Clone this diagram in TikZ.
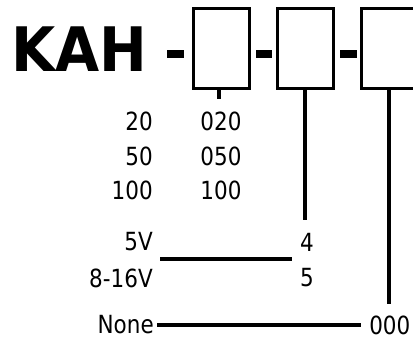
\documentclass[tikz,border=0pt]{standalone}
\usepackage{fontspec}
\setmainfont[FakeStretch=0.86]{DejaVu Sans}
\newfontfamily\kahfont[FakeStretch=0.93]{DejaVu Sans Bold}
\begin{document}
\begin{tikzpicture}[x=0.75pt,y=-0.75pt,
  codebox/.style={draw=black,line width=2.6pt,minimum width=55.5pt*0.75,minimum height=80pt*0.75,inner sep=0pt},
  dashbar/.style={fill=black},
  conn/.style={line width=2.5pt},
  lbl/.style={inner sep=0pt,font=\fontsize{18.75pt}{20pt}\selectfont}]
\useasboundingbox (0,0) rectangle (413,342);
\node[anchor=base west,inner sep=0pt,font=\kahfont\fontsize{46pt}{48pt}\selectfont] (kah) at (11,72) {KAH};
\node[codebox] (b1) at (221.5,48.5) {};
\node[codebox] (b2) at (305.5,48.5) {};
\node[codebox] (b3) at (389.5,48.5) {};
\fill[dashbar] (167,50) rectangle (184,58);
\fill[dashbar] (256,50) rectangle (272,58);
\fill[dashbar] (340,50) rectangle (357,58);
% labels
\node[lbl,anchor=east] (r20) at (153,121) {20};
\node[lbl,anchor=east] (r50) at (153,156) {50};
\node[lbl,anchor=east] (r100) at (153,190) {100};
\node[lbl] (c020) at (221,121) {020};
\node[lbl] (c050) at (221,156) {050};
\node[lbl] (c100) at (221,190) {100};
\node[lbl,anchor=east] (v5) at (153,242) {5V};
\node[lbl,anchor=east] (v816) at (153,278) {8-16V};
\node[lbl] (n4) at (307,242) {4};
\node[lbl] (n5) at (307,278) {5};
\node[lbl,anchor=east] (none) at (154,325) {None};
\node[lbl,anchor=west] (z000) at (369,325) {000};
% connectors
\coordinate (s1) at (219,99);
\coordinate (s2) at (305,220);
\coordinate (s3) at (389,304);
\coordinate (va) at (160,259);
\coordinate (vb) at (292,259);
\draw[conn] (s1 |- b1.south) -- (s1);
\draw[conn] (s2 |- b2.south) -- (s2);
\draw[conn] (s3 |- b3.south) -- (s3);
\draw[conn] (va) -- (vb);
\draw[conn] ([xshift=2.5pt]none.east) -- ([xshift=-6pt]z000.west);
\end{tikzpicture}
\end{document}
